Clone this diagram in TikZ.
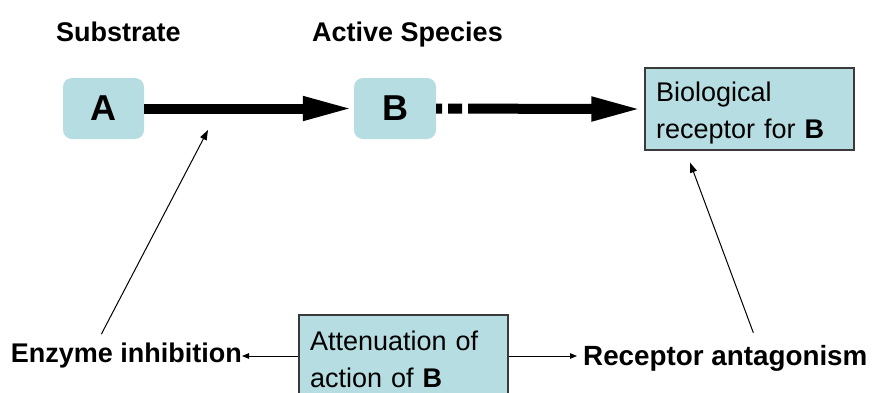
\documentclass[tikz,border=0pt]{standalone}
\usepackage{fontspec}
\setmainfont{Liberation Sans}
\usetikzlibrary{arrows.meta}
\definecolor{boxfill}{HTML}{B6DDE1}
\definecolor{boxline}{HTML}{3A3A3A}
\begin{document}
\begin{tikzpicture}[x=1pt,y=-1pt,
  softbox/.style={fill=boxfill, rounded corners=9pt, minimum height=61pt,
    inner sep=0pt, font=\bfseries\fontsize{36}{40}\selectfont},
  infobox/.style={fill=boxfill, draw=boxline, line width=1.1pt,
    text width=187pt, inner xsep=11pt, inner ysep=0pt, minimum height=82pt,
    align=left, font=\fontsize{27}{37}\selectfont},
  headtext/.style={inner sep=0pt, font=\bfseries\fontsize{27}{32}\selectfont},
  bigarrow/.style={line width=10pt, -{Triangle[length=51pt,width=22pt]}},
  thinarrow/.style={line width=1pt, -{Triangle[length=10pt,width=7pt]}},
  sidearrow/.style={line width=1pt, -{Triangle[length=7pt,width=5.5pt]}},
]
\useasboundingbox[fill=white] (0,0) rectangle (872,392);

% column headings
\node[headtext, anchor=base west] (sub) at (56,41) {Substrate};
\node[headtext, anchor=base west] (act) at (312,41) {Active Species};

% species boxes
\node[softbox, minimum width=81pt] (A) at (103.5,108.5) {A};
\node[softbox, minimum width=82pt] (B) at (395,108.5) {B};

% receptor and attenuation boxes
\node[infobox] (R) at (749.5,109) {\rule{0pt}{27pt}Biological\\receptor for \textbf{B}};
\node[infobox] (Att) at (403.5,356) {\rule{0pt}{27pt}Attenuation of\\action of \textbf{B}};

% strategies
\node[headtext, anchor=base east] (EI) at (242,362) {Enzyme inhibition};
\node[headtext, anchor=base west, font=\bfseries\fontsize{27.8}{32}\selectfont] (RA) at (583,365) {Receptor antagonism};

% main pathway
\draw[bigarrow] (A.east) -- (B.west);
\draw[line width=10pt, dash pattern=on 6pt off 6pt on 14pt off 6pt on 400pt off 0pt]
  (B.east) -- ([xshift=-40pt]R.west);
\draw[bigarrow, shorten >=2pt] ([xshift=-50pt]R.west) -- (R.west);

% points of intervention
\coordinate (inh) at (208,130);
\draw[thinarrow] ([xshift=-25pt,yshift=8pt]EI.north) -- (inh);
\draw[thinarrow] ([xshift=28pt,yshift=12pt]RA.north) -- ([xshift=-59.5pt,yshift=-12pt]R.south);

% attenuation branches
\draw[sidearrow] (Att.west) -- (Att.west -| EI.east);
\draw[sidearrow, shorten >=6pt] (Att.east) -- (Att.east -| RA.west);
\end{tikzpicture}
\end{document}
